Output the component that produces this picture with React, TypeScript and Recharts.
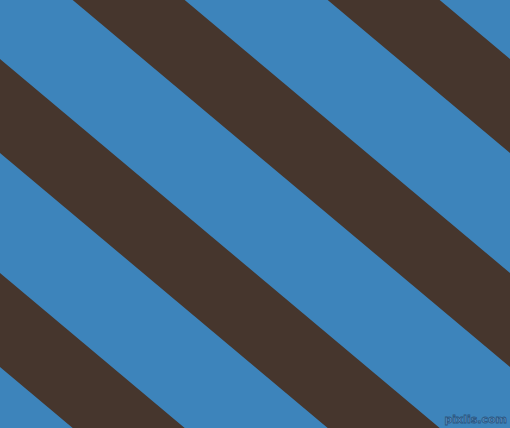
import { ComposedChart, Area, XAxis, YAxis } from "recharts";

const W = 510;
const H = 428;

// x positions where the stripe edges were read (left and right border)
const edgeX = [0, 510];

// brown stripes, y of their upper / lower edge at the left and right border
const stripeKeys = ["s1", "s2", "s3", "s4"];
const upperAtLeft = [-369, -155, 59, 273];
const lowerAtLeft = [-275, -61, 153, 367];
const upperAtRight = [59, 273, 487, 701];
const lowerAtRight = [153, 367, 581, 795];

const BLUE = "#3d84bb";
const BROWN = "#46362d";

const data = edgeX.map((x, i) => {
  const row: Record<string, number | number[]> = { x };
  stripeKeys.forEach((k, j) => {
    row[k] = i === 0 ? [upperAtLeft[j], lowerAtLeft[j]] : [upperAtRight[j], lowerAtRight[j]];
  });
  return row;
});

export default function App() {
  return (
    <div style={{ position: "fixed", top: 0, left: 0, width: W, height: H, background: BLUE, overflow: "hidden" }}>
      <ComposedChart width={W} height={H} data={data} margin={{ top: 0, right: 0, left: 0, bottom: 0 }}>
        <XAxis dataKey="x" type="number" domain={[0, W]} allowDataOverflow hide />
        <YAxis type="number" domain={[0, H]} reversed allowDataOverflow hide width={0} />
        {stripeKeys.map((k) => (
          <Area
            key={k}
            type="linear"
            dataKey={k}
            stroke="none"
            fill={BROWN}
            fillOpacity={1}
            dot={false}
            activeDot={false}
            isAnimationActive={false}
          />
        ))}
      </ComposedChart>
      <div
        style={{
          position: "absolute",
          right: 3,
          bottom: 3,
          fontFamily: "'DejaVu Sans', sans-serif",
          fontWeight: "bold",
          fontSize: 11,
          color: "#5b8ec0",
          WebkitTextStroke: "0.8px #2a5680",
          lineHeight: 1,
        }}
      >
        pixlis.com
      </div>
    </div>
  );
}
